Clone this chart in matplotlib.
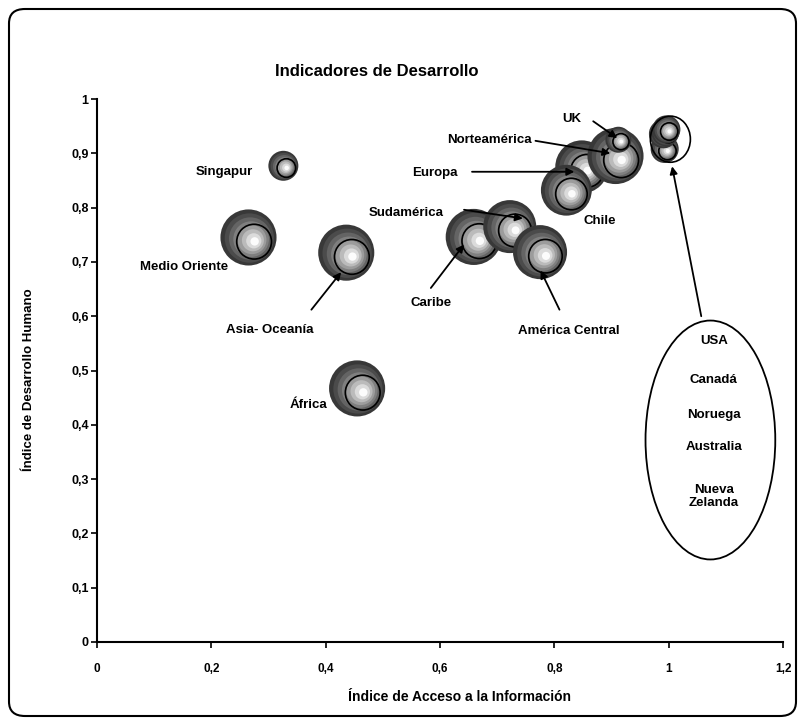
import matplotlib
matplotlib.use('Agg')
import matplotlib.pyplot as plt
import matplotlib.patches as mpatches
import numpy as np

plt.rcParams['font.family'] = ['Liberation Sans', 'DejaVu Sans']
plt.rcParams['font.weight'] = 'bold'

# Data: region, access-to-information index, human development index, bubble size
regiones = ['Singapur', 'Medio Oriente', 'Asia- Oceanía', 'África',
            'Caribe', 'Sudamérica', 'América Central',
            'Europa', 'Norteamérica', 'UK', 'Chile',
            'Nueva Zelanda', 'Australia', 'Canadá', 'USA', 'Noruega']
acceso = [0.326, 0.265, 0.436, 0.455,
          0.659, 0.722, 0.775,
          0.848, 0.907, 0.912, 0.821,
          0.993, 0.991, 0.990, 0.994, 0.996]
idh = [0.877, 0.745, 0.717, 0.467,
       0.746, 0.765, 0.718,
       0.875, 0.895, 0.925, 0.832,
       0.908, 0.935, 0.936, 0.939, 0.944]
tamano = [8, 28, 28, 28,
          28, 25, 26,
          25, 28, 6, 23,
          7, 7, 7, 7, 7]

grupo_top = ['USA', 'Canadá', 'Noruega', 'Australia', 'Nueva\nZelanda']

# label text, label position, arrow (x0, y0, x1, y1) or None
etiquetas = [
    ('Singapur', (0.223, 0.866), None),
    ('Medio Oriente', (0.152, 0.691), None),
    ('Asia- Oceanía', (0.302, 0.574), (0.375, 0.612, 0.427, 0.681)),
    ('África', (0.370, 0.436), None),
    ('Sudamérica', (0.541, 0.790), (0.642, 0.796, 0.745, 0.780)),
    ('Caribe', (0.584, 0.625), (0.584, 0.652, 0.642, 0.732)),
    ('América Central', (0.825, 0.572), (0.809, 0.612, 0.776, 0.684)),
    ('Europa', (0.591, 0.863), (0.656, 0.866, 0.835, 0.866)),
    ('Norteamérica', (0.687, 0.924), (0.767, 0.923, 0.898, 0.900)),
    ('UK', (0.830, 0.963), (0.868, 0.959, 0.910, 0.928)),
    ('Chile', (0.880, 0.775), None),
]

W, H = 800, 720
fig = plt.figure(figsize=(W / 100, H / 100), dpi=100)
ax_l, ax_r, ax_t, ax_b = 97, 783, 99, 642
ax = fig.add_axes([ax_l / W, 1 - ax_b / H, (ax_r - ax_l) / W, (ax_b - ax_t) / H])
ax.set_xlim(0, 1.2)
ax.set_ylim(0, 1)

# pixel -> data conversion
kx = 1.2 / (ax_r - ax_l)
ky = 1.0 / (ax_b - ax_t)

def burbuja(x, y, r):
    # shaded bubble, like the old Excel 3D effect
    hx, hy = 0.22 * r, -0.14 * r
    n = 8
    for i in range(n):
        t = i / (n - 1)
        rr = r * (1 - 0.85 * t)
        g = 0.22 + 0.77 * t ** 1.2
        e = mpatches.Ellipse((x + t * hx * kx, y + t * hy * ky), 2 * rr * kx, 2 * rr * ky,
                             facecolor=(g, g, g), edgecolor='none', zorder=3)
        ax.add_patch(e)
    o = mpatches.Ellipse((x + 0.2 * r * kx, y - 0.15 * r * ky), 1.24 * r * kx, 1.24 * r * ky,
                         facecolor='none', edgecolor='black', lw=1.2, zorder=3)
    ax.add_patch(o)

for xv, yv, s in zip(acceso, idh, tamano):
    burbuja(xv, yv, 5.3 * np.sqrt(s))

fs = 9.5
for txt, (tx, ty), arr in etiquetas:
    ax.text(tx, ty, txt, ha='center', va='center', fontsize=fs, fontweight='bold', zorder=5)
    if arr is not None:
        ax.annotate('', xy=(arr[2], arr[3]), xytext=(arr[0], arr[1]),
                    arrowprops=dict(arrowstyle='-|>', color='black', lw=1.3,
                                    mutation_scale=11, shrinkA=0, shrinkB=0), zorder=6)

# small ellipse round the top group and big ellipse with the names
ax.add_patch(mpatches.Ellipse((1.003, 0.926), 0.07, 0.085, facecolor='none',
                              edgecolor='black', lw=1.2, zorder=4))
ax.add_patch(mpatches.Ellipse((1.073, 0.372), 0.227, 0.44, facecolor='none',
                              edgecolor='black', lw=1.3, zorder=4, clip_on=False))
ax.annotate('', xy=(1.006, 0.876), xytext=(1.057, 0.600),
            arrowprops=dict(arrowstyle='-|>', color='black', lw=1.3,
                            mutation_scale=11, shrinkA=0, shrinkB=0), zorder=6)
for txt, yy in zip(grupo_top, [0.554, 0.483, 0.418, 0.360, 0.268]):
    ax.text(1.079, yy, txt, ha='center', va='center', fontsize=fs, fontweight='bold',
            linespacing=1.08, zorder=5)

# axes styling
for sp in ['top', 'right']:
    ax.spines[sp].set_visible(False)
ax.spines['left'].set_linewidth(1.5)
ax.spines['bottom'].set_linewidth(1.5)
xt = [0, 0.2, 0.4, 0.6, 0.8, 1, 1.2]
yt = [0, 0.1, 0.2, 0.3, 0.4, 0.5, 0.6, 0.7, 0.8, 0.9, 1]
ax.set_xticks(xt)
ax.set_xticklabels([f'{v:g}'.replace('.', ',') for v in xt])
ax.set_yticks(yt)
ax.set_yticklabels([f'{v:g}'.replace('.', ',') for v in yt])
ax.tick_params(axis='x', direction='out', length=4, width=1.2, pad=11, labelsize=8.5)
ax.tick_params(axis='y', direction='out', length=4, width=1.2, pad=2, labelsize=9)
for lab in ax.get_xticklabels() + ax.get_yticklabels():
    lab.set_fontweight('bold')

ax.text(0.529, -0.102, 'Índice de Acceso a la Información', transform=ax.transAxes,
        ha='center', va='center', fontsize=10, fontweight='bold')
fig.text(29 / W, 1 - 380 / H, 'Índice de Desarrollo Humano', rotation=90,
         ha='center', va='center', fontsize=9.5, fontweight='bold')
fig.text(377 / W, 1 - 71 / H, 'Indicadores de Desarrollo', ha='center', va='center',
         fontsize=12, fontweight='bold')

# rounded outer frame
frame = mpatches.FancyBboxPatch((9 / W, 4 / H), 787 / W, 707 / H,
                                boxstyle='round,pad=0,rounding_size=0.02',
                                transform=fig.transFigure, facecolor='none',
                                edgecolor='black', lw=1.5)
fig.patches.append(frame)

fig.savefig('out.png', dpi=100)
